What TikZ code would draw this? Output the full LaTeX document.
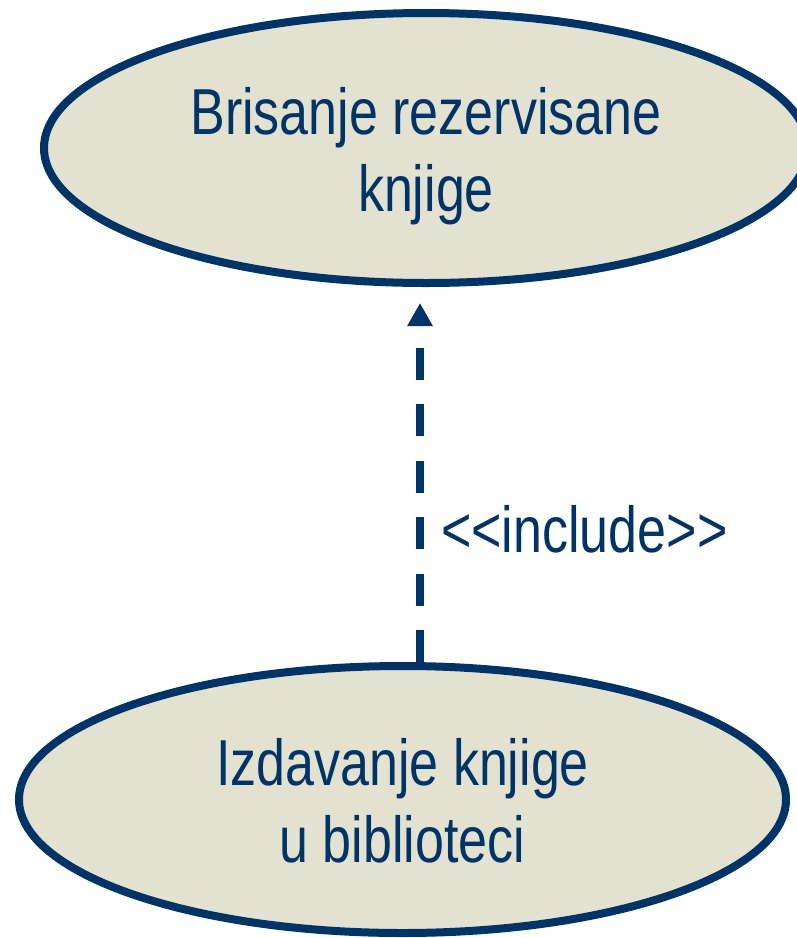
\documentclass[tikz,border=0pt]{standalone}
\usepackage{fontspec}
\setmainfont[FakeStretch=0.8]{Liberation Sans}
\usetikzlibrary{arrows.meta,shapes.geometric}
\definecolor{navy}{HTML}{003366}
\definecolor{ucfill}{HTML}{E3E1D0}
\begin{document}
\begin{tikzpicture}[x=1pt,y=-1pt,
  usecase/.style={ellipse, draw=navy, fill=ucfill, line width=8pt, inner sep=0pt,
    align=center, text=navy, font=\fontsize{65}{77}\selectfont},
  incl/.style={draw=navy, line width=8pt, dash pattern=on 32pt off 24.5pt,
    -{Triangle[width=24pt,length=23pt]}},
  lbl/.style={text=navy, inner sep=0pt, font=\fontsize{65}{77}\selectfont}]
\useasboundingbox (0,0) rectangle (797,938);
\node[usecase, minimum width=764pt, minimum height=270pt, text depth=0pt, text height=126pt]
  (bris) at (426,148) {Brisanje rezervisane\\knjige};
\node[usecase, minimum width=767pt, minimum height=267pt, text depth=0pt, text height=126pt]
  (izd) at (402.5,799.5) {Izdavanje knjige\\u biblioteci};
\coordinate (ax) at (420,0);
\draw[incl, shorten >=16pt] (izd.north -| ax) -- (bris.south -| ax);
\node[lbl, anchor=base west] (inc) at (441,552) {<\kern0pt<include>\kern0pt>};
\end{tikzpicture}
\end{document}
